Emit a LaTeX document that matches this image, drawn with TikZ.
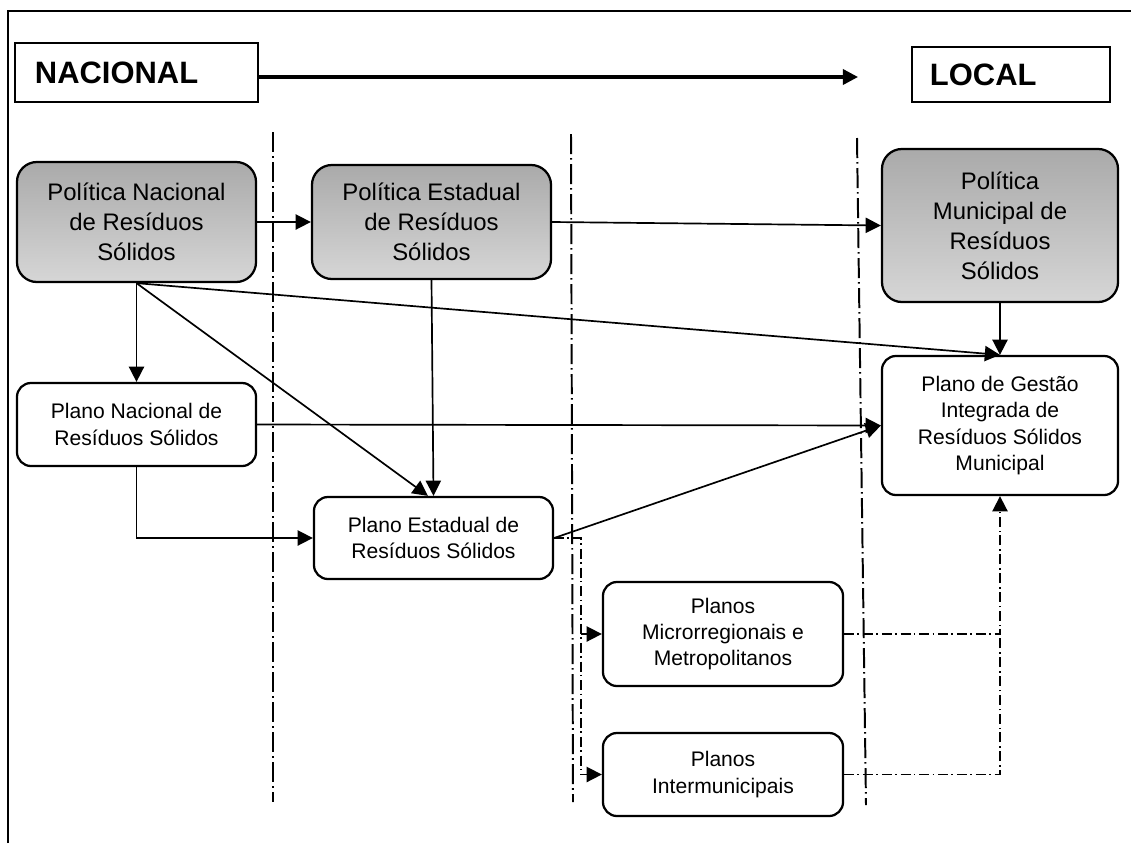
\documentclass[tikz,border=0pt]{standalone}
\usepackage{fontspec}
\setmainfont{Liberation Sans}
\usepackage{tikz}
\usetikzlibrary{arrows.meta,calc}
\usepackage{xcolor}
\definecolor{boxgrey}{RGB}{170,170,170}
\definecolor{boxlight}{RGB}{214,214,214}

\begin{document}
\begin{tikzpicture}[x=0.025cm,y=-0.025cm,
    politica/.style={draw,line width=1.6pt,rounded corners=0.5cm,top color=boxgrey,
      bottom color=boxlight,align=center,inner sep=0pt,
      font=\fontsize{17pt}{21.3pt}\selectfont},
    plano/.style={draw,fill=white,line width=1.6pt,rounded corners=0.35cm,
      align=center,inner sep=0pt,font=\fontsize{15pt}{18.7pt}\selectfont},
    escala/.style={draw,line width=1.1pt,inner ysep=0pt,align=left,
      font=\fontsize{22pt}{26pt}\selectfont\bfseries},
    divisa/.style={line width=1.4pt,dash pattern=on 0.5cm off 0.1cm on 0.04cm off 0.11cm},
    liga/.style={line width=1.2pt,-{Triangle[length=0.38cm,width=0.38cm]}},
    tracejado/.style={line width=1.2pt,dash pattern=on 0.25cm off 0.08cm on 0.04cm off 0.1cm}]
  \useasboundingbox (0,0) rectangle (1131,843);
  % Frame
  \draw[line width=1.1pt] (8,843) -- (8,11) -- (1131,11);
  % Scale
  \node[escala,text width=5.075cm,inner xsep=0.5cm,minimum height=1.475cm]
    (nacional) at (136.5,72.5) {NACIONAL};
  \node[escala,text width=4.05cm,inner xsep=0.45cm,minimum height=1.375cm]
    (local) at (1011,74.5) {LOCAL};
  \coordinate (fimseta) at (858,77);
  \draw[line width=2.4pt,-{Triangle[length=0.38cm,width=0.38cm]}]
    (nacional.east |- fimseta) -- (fimseta);
  % Dividers
  \draw[divisa] (273,132) -- (273,802);
  \draw[divisa] (571,134) -- (573,802);
  \draw[divisa] (857,138) -- (866,805);
  % Policies
  \node[politica,minimum width=5.975cm,minimum height=3cm] (polnac) at (136.5,222)
    {Política Nacional\\de Resíduos\\Sólidos};
  \node[politica,minimum width=5.975cm,minimum height=2.85cm] (polest) at (431.5,222)
    {Política Estadual\\de Resíduos\\Sólidos};
  \node[politica,minimum width=5.9cm,minimum height=3.825cm] (polmun) at (1000,225.5)
    {Política\\Municipal de\\Resíduos\\Sólidos};
  % Plans
  \node[plano,minimum width=5.975cm,minimum height=2.075cm] (plnac) at (136.5,424.5)
    {Plano Nacional de\\Resíduos Sólidos};
  \node[plano,minimum width=5.975cm,minimum height=2.05cm] (plest) at (433.5,538)
    {Plano Estadual de\\Resíduos Sólidos};
  \node[plano,minimum width=5.9cm,minimum height=3.475cm] (gestao) at (1000,425.5)
    {Plano de Gestão\\Integrada de\\Resíduos Sólidos\\Municipal};
  \node[plano,minimum width=6cm,minimum height=2.6cm] (micro) at (723,634)
    {Planos\\Microrregionais e\\Metropolitanos};
  \node[plano,minimum width=6cm,minimum height=2.075cm] (intermun) at (723,774.5)
    {Planos\\Intermunicipais};
  % Links
  \draw[liga] (polnac.east) -- (polest.west);
  \draw[liga] (polest.east) -- (polmun.west);
  \draw[liga] (polnac.south) -- (plnac.north);
  \draw[liga] (polnac.south) -- ([xshift=-0.14cm]plest.north);
  \draw[liga] (polest.south) -- (plest.north);
  \draw[liga] (polnac.south) -- (gestao.north);
  \draw[liga] (polmun.south) -- (gestao.north);
  \draw[liga] (plnac.east) -- (gestao.west);
  \draw[liga] (plnac.south) |- (plest.west);
  \draw[liga] (plest.east) -- (gestao.west);
  % Regional plans
  \coordinate (desvio) at (581,0);
  \draw[tracejado] (plest.east) -- (desvio |- plest.east) -- (desvio |- intermun.west);
  \draw[liga] (desvio |- micro.west) -- (micro.west);
  \draw[liga] (desvio |- intermun.west) -- (intermun.west);
  \draw[tracejado,-{Triangle[length=0.38cm,width=0.38cm]}]
    (micro.east) -| (gestao.south);
  \draw[tracejado] (intermun.east) -| (gestao.south |- micro.east);
\end{tikzpicture}
\end{document}
